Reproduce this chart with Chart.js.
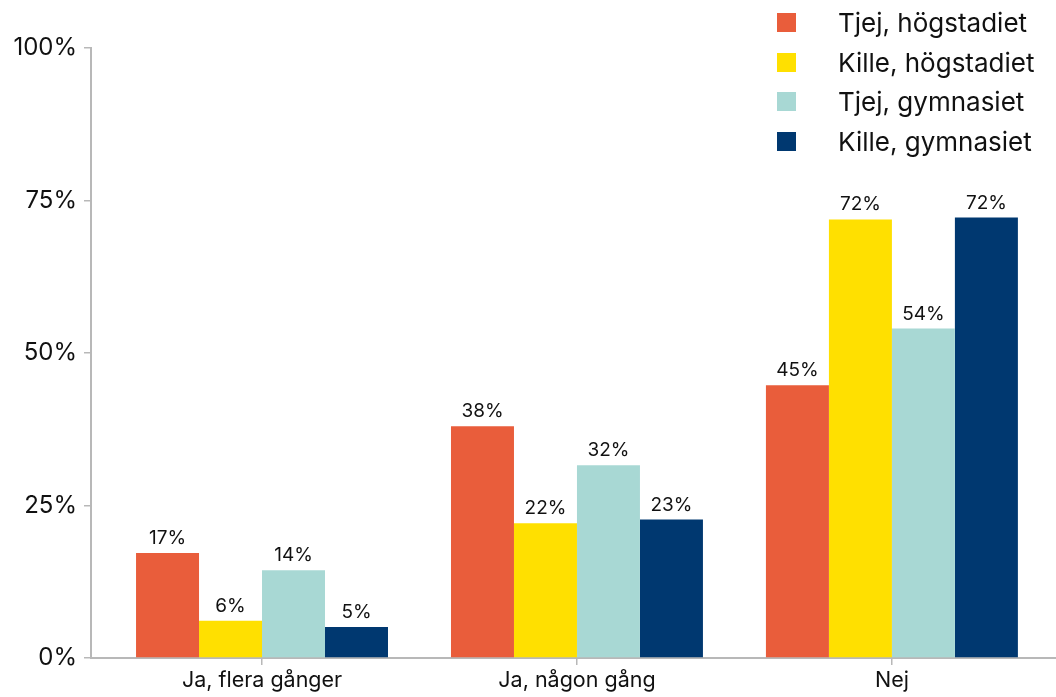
<!DOCTYPE html>
<html><head><meta charset="utf-8">
<script src="https://cdn.jsdelivr.net/npm/chart.js@4.4.1/dist/chart.umd.min.js"></script>
<style>
html,body{margin:0;padding:0;background:#fff;}
#wrap{position:relative;width:1056px;height:697px;overflow:hidden;}
#legend{position:absolute;left:777px;top:3px;font-family:Inter, sans-serif;font-size:26px;color:#111;}
.li{display:flex;align-items:center;height:39.5px;white-space:nowrap;}
.sw{width:19px;height:19px;margin-right:42px;flex:none;}
</style></head><body>
<div id="wrap"><canvas id="c" width="1056" height="697"></canvas><div id="legend"></div></div>
<script>
const categories = ['Ja, flera gånger', 'Ja, någon gång', 'Nej'];
const seriesNames = ['Tjej, högstadiet', 'Kille, högstadiet', 'Tjej, gymnasiet', 'Kille, gymnasiet'];
const tjejHogstadiet = [17.2, 38.0, 44.7];
const killeHogstadiet = [6.1, 22.1, 71.9];
const tjejGymnasiet = [14.4, 31.6, 54.0];
const killeGymnasiet = [5.1, 22.7, 72.2];
const yTicks = [0, 25, 50, 75, 100];
const colors = ['#E95D3B', '#FFE000', '#A8D8D4', '#003870'];

const seriesValues = [tjejHogstadiet, killeHogstadiet, tjejGymnasiet, killeGymnasiet];
const FONT = 'Inter, sans-serif';
const TEXT = '#111';
const AXIS = '#b8b8b8';

const valueLabels = {
  id: 'valueLabels',
  afterDatasetsDraw(chart) {
    const ctx = chart.ctx;
    ctx.save();
    ctx.font = '19px ' + FONT;
    ctx.fillStyle = TEXT;
    ctx.textAlign = 'center';
    ctx.textBaseline = 'alphabetic';
    chart.data.datasets.forEach((ds, di) => {
      chart.getDatasetMeta(di).data.forEach((bar, i) => {
        ctx.fillText(Math.round(ds.data[i].y) + '%', bar.x, bar.y - 9);
      });
    });
    ctx.restore();
  }
};

function build() {
  const legend = document.getElementById('legend');
  seriesNames.forEach((n, i) => {
    const row = document.createElement('div');
    row.className = 'li';
    const sw = document.createElement('span');
    sw.className = 'sw';
    sw.style.background = colors[i];
    const t = document.createElement('span');
    t.textContent = n;
    row.appendChild(sw); row.appendChild(t);
    legend.appendChild(row);
  });

  new Chart(document.getElementById('c'), {
    type: 'bar',
    data: {
      datasets: seriesNames.map((n, si) => ({
        label: n,
        data: categories.map((c, i) => ({ x: i, y: seriesValues[si][i] })),
        backgroundColor: colors[si],
        borderWidth: 0,
        categoryPercentage: 0.8,
        barPercentage: 1.0
      }))
    },
    options: {
      responsive: false,
      animation: false,
      devicePixelRatio: 1,
      layout: { padding: { top: 48, right: 0, bottom: 0, left: 0 } },
      plugins: { legend: { display: false }, tooltip: { enabled: false } },
      scales: {
        x: {
          type: 'linear',
          min: -0.543,
          max: 2.521,
          offset: false,
          grid: { offset: false, drawOnChartArea: false, drawTicks: true, tickLength: 7, color: AXIS, lineWidth: 1.5 },
          border: { color: AXIS, width: 2 },
          ticks: {
            stepSize: 1, includeBounds: false, autoSkip: false, maxRotation: 0, padding: 3,
            callback: (v) => (categories[v] !== undefined ? categories[v] : ''),
            font: { family: FONT, size: 21.5 }, color: TEXT
          },
          afterFit: (s) => { s.height = 39; }
        },
        y: {
          min: 0, max: 100,
          afterBuildTicks: (s) => { s.ticks = yTicks.map(v => ({ value: v })); },
          grid: { drawOnChartArea: false, drawTicks: true, tickLength: 7, color: AXIS, lineWidth: 1.5 },
          border: { color: AXIS, width: 2 },
          ticks: { callback: (v) => v + '%', padding: 7, font: { family: FONT, size: 24 }, color: TEXT },
          afterFit: (s) => { s.width = 91; }
        }
      }
    },
    plugins: [valueLabels]
  });
}
if (document.fonts && document.fonts.load) {
  Promise.all([document.fonts.load('19px Inter'), document.fonts.load('26px Inter')]).then(build, build);
} else { build(); }
</script>
</body></html>
